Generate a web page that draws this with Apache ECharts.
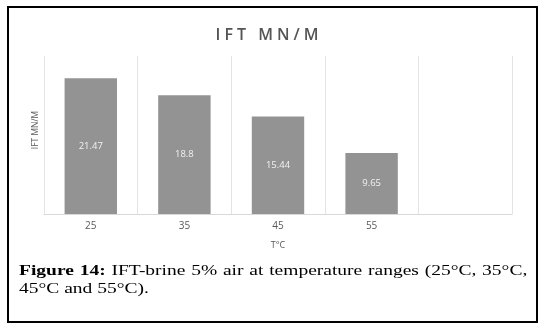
<!DOCTYPE html>
<html>
<head>
<meta charset="utf-8">
<script src="https://cdn.jsdelivr.net/npm/echarts@6/dist/echarts.min.js"></script>
<style>
  html, body { margin: 0; padding: 0; background: #fff; }
  #wrap { position: relative; width: 545px; height: 329px; overflow: hidden; }
  #box { position: absolute; left: 7px; top: 6px; width: 527px; height: 313px; border: 2px solid #000; }
  #chart { position: absolute; left: 0; top: 0; width: 545px; height: 329px; }
  #title { position: absolute; left: 0; top: 23px; width: 538px; text-align: center;
           font-family: 'Open Sans', 'Liberation Sans', sans-serif; font-size: 16px; letter-spacing: 4px;
           color: #555555; line-height: 22px; font-weight: 600; }
  #caption { position: absolute; left: 19px; top: 261px; width: 391px; transform: scaleX(1.3); transform-origin: left top;
             font-family: 'Liberation Serif', 'Times New Roman', serif; font-size: 15px; line-height: 18px; color: #000; }
  #caption .l1 { display: block; text-align: justify; text-align-last: justify; white-space: nowrap; }
</style>
</head>
<body>
<div id="wrap">
  <div id="box"></div>
  <div id="chart"></div>
  <div id="title">IFT MN/M</div>
  <div id="caption"><span class="l1"><b>Figure 14:</b> IFT-brine 5% air at temperature ranges (25°C, 35°C,</span>45°C and 55°C).</div>
</div>
<script>
const categories = ['25', '35', '45', '55', ''];
const ift = [21.47, 18.8, 15.44, 9.65, null];
const xAxisName = 'T°C';
const yAxisName = 'IFT MN/M';

const chart = echarts.init(document.getElementById('chart'), null, { renderer: 'canvas' });
chart.setOption({
  animation: false,
  backgroundColor: 'transparent',
  grid: { left: 44, right: 33, top: 56, bottom: 115 },
  xAxis: {
    type: 'category',
    data: categories,
    axisLine: { show: true, lineStyle: { color: '#d9d9d9', width: 1 } },
    axisTick: { show: false },
    axisLabel: { color: '#595959', fontSize: 10, margin: 7, fontFamily: 'Open Sans' },
    splitLine: { show: true, lineStyle: { color: '#e3e3e3', width: 1 } },
    name: xAxisName,
    nameLocation: 'middle',
    nameGap: 27,
    nameTextStyle: { color: '#595959', fontSize: 9, fontFamily: 'Open Sans' }
  },
  yAxis: {
    type: 'value',
    min: 0,
    max: 25,
    axisLabel: { show: false },
    axisTick: { show: false },
    axisLine: { show: false },
    splitLine: { show: false },
    name: yAxisName,
    nameLocation: 'middle',
    nameRotate: 90,
    nameGap: 4,
    nameTextStyle: { color: '#595959', fontSize: 8.5, fontFamily: 'Open Sans', padding: [0, 0, 0, 10] }
  },
  series: [{
    type: 'bar',
    data: ift,
    barCategoryGap: '44%',
    itemStyle: { color: '#939393' },
    label: { show: true, position: 'inside', color: '#f2f2f2', fontSize: 9.5, fontFamily: 'Open Sans' }
  }]
});
</script>
</body>
</html>
